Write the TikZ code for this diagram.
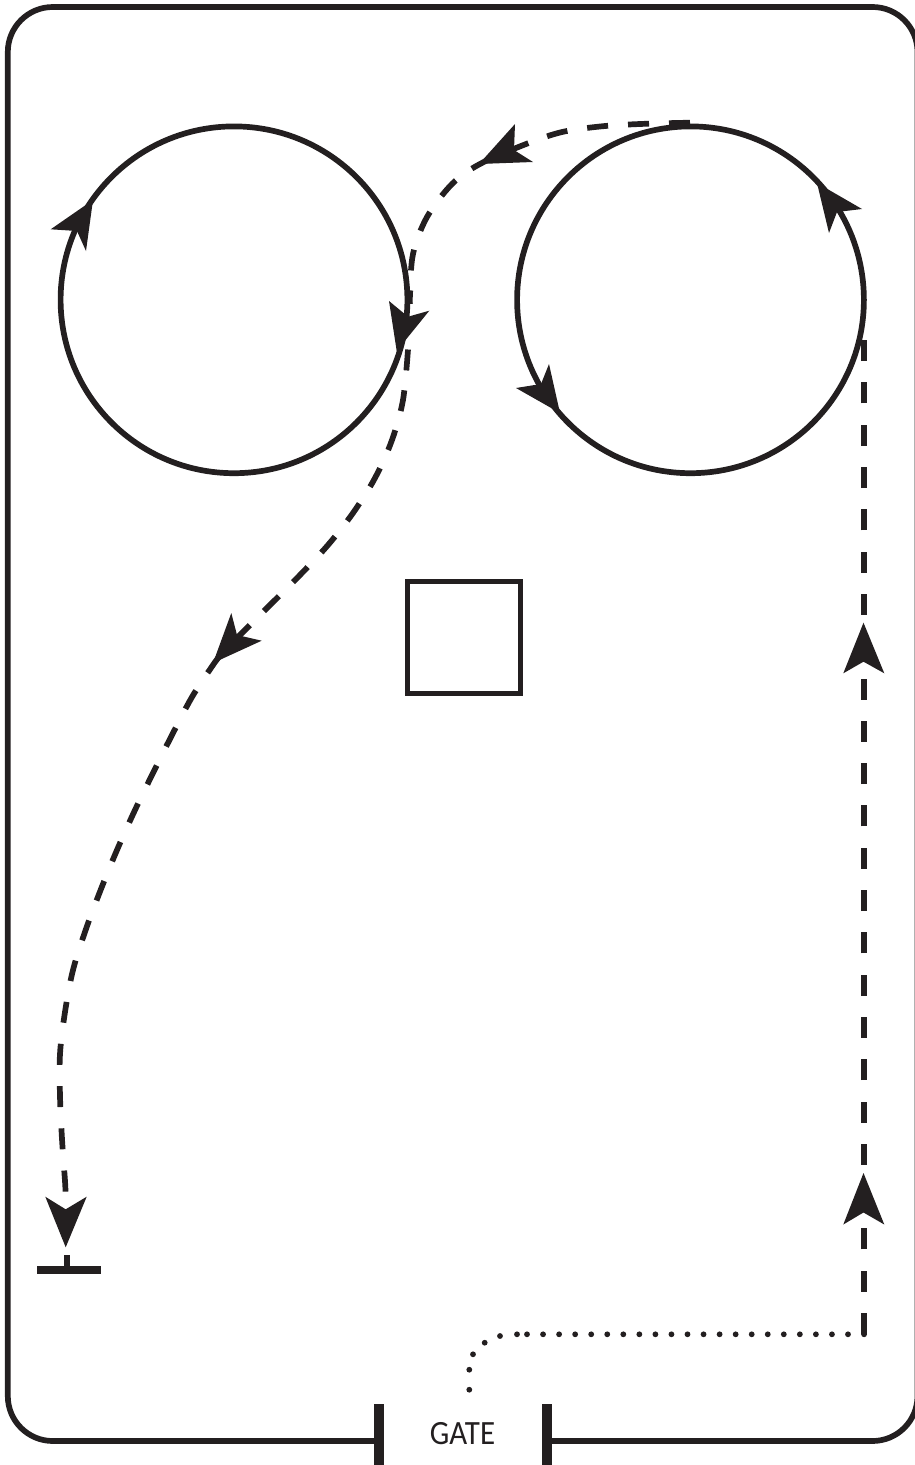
\documentclass[tikz,border=0pt]{standalone}
\usepackage{fontspec}
\setmainfont{Carlito}
\definecolor{ink}{HTML}{231F20}
\tikzset{
  solidline/.style={draw=ink,line width=5.7pt},
  dashup/.style={draw=ink,line width=5.7pt,dash pattern=on 21pt off 20pt},
  dashlow/.style={draw=ink,line width=5.7pt,dash pattern=on 21pt off 21.3pt},
  longdash/.style={draw=ink,line width=5.7pt,dash pattern=on 21pt off 21.3pt},
  dotmark/.style={fill=ink,draw=none},
  head/.style={fill=ink,draw=none},
  gatebar/.style={fill=ink,draw=none},
}
\newcommand{\headat}[4]{\path[head] #1 -- #2 -- #3 -- #4 -- cycle;}
\begin{document}
\begin{tikzpicture}[x=1pt,y=-1pt]
\useasboundingbox (0,0) rectangle (914,1465);
% frame
\coordinate (gl) at (379,1441);
\coordinate (gr) at (547,1441);
\draw[solidline,rounded corners=45pt] (gl) -- (7.8,1441) -- (7.8,7) -- (917.5,7) -- (917.5,1441) -- (gr);
\fill[gatebar] (374,1404) rectangle (384,1465);
\fill[gatebar] (541.5,1404) rectangle (552,1465);
\node[inner sep=0pt,text=ink,font=\fontsize{34}{34}\selectfont,xscale=.91] (gate) at (462.5,1434) {GATE};
% circles
\node[circle,solidline,minimum size=346.8pt,inner sep=0pt] (c1) at (234,299.8) {};
\node[circle,solidline,minimum size=346.8pt,inner sep=0pt] (c2) at (690.5,299.8) {};
% square
\node[rectangle,solidline,line width=5pt,minimum width=113pt,minimum height=112pt,inner sep=0pt] (sq) at (464,637.5) {};
% circle heads
\headat{(93,200)}{(50.7,229.3)}{(77,231)}{(86,251)}
\headat{(396.7,351)}{(389,301)}{(408,316.7)}{(429.3,310.7)}
\headat{(817,183)}{(862,209)}{(837,212)}{(829,233)}
\headat{(560,413)}{(549,364)}{(541,384)}{(516,388)}
% curved dashed
\coordinate (cs) at (690,122.7);
\coordinate (ce) at (65.5,1191.5);
\draw[dashup] plot[smooth,tension=0.55] coordinates {(cs) (640,124) (600,126.5) (560,132.5) (521,146) (479,164.5) (452,184) (427,217) (413,254) (410,295) (410,304)};
\draw[dashup] plot[smooth,tension=0.55] coordinates {(408,349.5) (403,400) (392,440) (375,478) (353,513) (328,545) (300,575) (271,604) (242,633) (232,643)};
\draw[dashlow] plot[smooth,tension=0.55] coordinates {(ce) (65,1181) (62,1139) (60,1096) (60,1054) (65,1012) (73,970) (86,929) (101,889) (117,850) (135,810) (153,773) (172,735) (192,697) (213,665) (219,657)};
\headat{(479,164)}{(515,124)}{(514,150)}{(533,162)}
\headat{(213,663)}{(231.3,613)}{(237,635)}{(261.7,640.7)}
\headat{(65.7,1247.3)}{(45.3,1196.7)}{(65.7,1209.3)}{(86.7,1196.7)}
% stop
\coordinate (stopa) at (67,1255.3);
\coordinate (stopb) at (67,1270);
\draw[draw=ink,line width=5.4pt] (stopa) -- (stopb);
\fill[gatebar] (37,1266) rectangle (101,1274.3);
% right dashed
\coordinate (ra) at (863.7,1334);
\coordinate (rb) at (863.7,340);
\draw[longdash] (ra) -- (rb);
\headat{(863.5,622.7)}{(843.3,673.3)}{(863.5,661.7)}{(884.3,673.3)}
\headat{(863.5,1173)}{(843.3,1224.5)}{(863.5,1212.5)}{(884.3,1224.5)}
% dotted
\foreach \px/\py in {469.3/1389.7,469.3/1369.7,473/1354.3,484.7/1342.7,500/1336,517/1334.3}
  \fill[dotmark] (\px,\py) circle (2.9pt);
\foreach \n in {0,...,21}
  \fill[dotmark] ({527+16.05*\n},1334.3) circle (2.9pt);
\end{tikzpicture}
\end{document}
